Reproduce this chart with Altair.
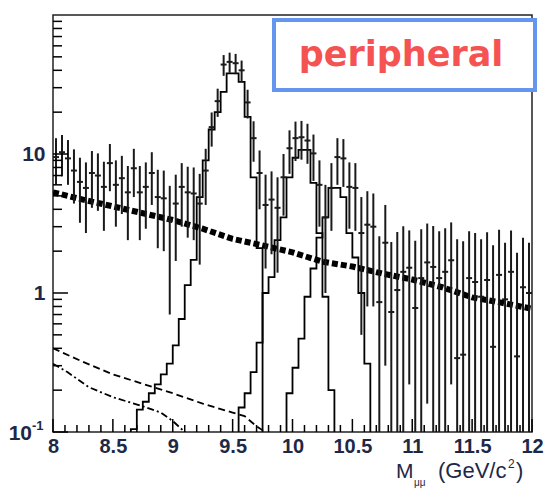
import altair as alt
import pandas as pd

# ---------------- data ----------------
BIN_W = 0.05
DATA_START = 8.0
DATA_VAL = [9.5, 10.3, 9.3, 7.6, 6.3, 5.7, 7.3, 7.0, 5.8, 8.6,
            6.0, 6.7, 5.3, 7.9, 5.3, 5.8, 7.3, 4.9, 4.8, 3.3,
            4.4, 5.8, 5.3, 5.2, 4.4, 7.6, 15.6, 24.0, 44.0, 46.0,
            45.0, 40.0, 23.5, 13.0, 7.3, 4.3, 4.7, 4.1, 6.8, 11.0,
            13.0, 13.2, 12.5, 10.1, 6.0, 3.5, 5.7, 9.5, 9.3, 5.8,
            5.7, 2.7, 3.1, 3.0, 0.86, 2.3, 0.73, 1.05, 1.42, 1.52,
            0.78, 1.28, 1.66, 1.54, 1.28, 1.42, 1.72, 0.34, 0.36, 1.28,
            1.2, 0.94, 1.24, 0.41, 1.35, 0.9, 1.42, 0.35, 1.1, 1.0]
DATA_ERR = [3.5, 3.4, 3.3, 3.2, 3.1, 3.0, 3.2, 3.1, 3.0, 3.2,
            3.0, 3.0, 2.9, 3.0, 2.9, 2.9, 3.0, 2.8, 2.8, 2.6,
            2.7, 2.8, 2.8, 2.8, 2.8, 3.3, 4.3, 5.5, 7.5, 7.6,
            7.5, 7.0, 5.5, 4.2, 3.3, 2.8, 2.8, 2.7, 3.2, 3.8,
            4.1, 4.1, 4.0, 3.7, 3.0, 2.5, 2.9, 3.5, 3.5, 2.9,
            2.9, 2.2, 2.3, 2.2, 1.7, 2.0, 1.6, 1.7, 1.6, 1.3,
            1.6, 1.6, 1.5, 1.5, 1.5, 1.5, 1.5, 2.1, 2.0, 1.5,
            1.5, 1.5, 1.5, 1.8, 1.5, 1.4, 1.4, 1.6, 1.4, 1.3]

BKG_X = [8.0, 8.25, 8.5, 8.75, 9.0, 9.25, 9.5, 9.75, 10.0, 10.25, 10.5,
         10.75, 11.0, 11.25, 11.5, 11.75, 12.0]
BKG_Y = [5.3, 4.7, 4.2, 3.75, 3.35, 2.9, 2.45, 2.2, 1.96, 1.68, 1.55,
         1.38, 1.25, 1.1, 0.93, 0.85, 0.77]

DY_X = [8.0, 8.25, 8.5, 8.75, 9.0, 9.25, 9.5, 9.6, 9.7, 9.85]
DY_Y = [0.40, 0.32, 0.26, 0.222, 0.19, 0.16, 0.138, 0.13, 0.11, 0.09]

BB_X = [8.0, 8.12, 8.3, 8.5, 8.75, 8.9, 9.0, 9.1, 9.2]
BB_Y = [0.31, 0.27, 0.21, 0.178, 0.153, 0.138, 0.12, 0.1, 0.085]

U1S_START = 8.65
U1S = [0.105, 0.145, 0.165, 0.19, 0.22, 0.26, 0.31, 0.42, 0.65, 1.14,
       1.73, 4.9, 9.0, 15.0, 20.0, 28.0, 38.0, 38.0, 33.0, 18.5, 6.8, 2.1]
U2S_START = 9.55
U2S = [0.15, 0.19, 0.27, 0.44, 1.0, 1.3, 2.4, 3.5, 6.8, 9.4, 10.7, 10.7,
       6.2, 2.7, 0.94, 0.2]
U3S_START = 9.95
U3S = [0.19, 0.29, 0.47, 0.94, 1.5, 2.5, 3.5, 5.7, 5.7, 4.9, 2.7, 1.8,
       1.0, 0.31]

X_MAJOR = [8, 8.5, 9, 9.5, 10, 10.5, 11, 11.5, 12]
X_MINOR = [8.1, 8.2, 8.3, 8.4, 8.6, 8.7, 8.8, 8.9, 9.1, 9.2, 9.3, 9.4,
           9.6, 9.7, 9.8, 9.9, 10.1, 10.2, 10.3, 10.4, 10.6, 10.7, 10.8, 10.9,
           11.1, 11.2, 11.3, 11.4, 11.6, 11.7, 11.8, 11.9]
Y_MAJOR = [0.1, 1, 10]
Y_LABELS = [1, 10]
Y_MINOR = [0.2, 0.3, 0.4, 0.5, 0.6, 0.7, 0.8, 0.9,
           2, 3, 4, 5, 6, 7, 8, 9, 20, 30, 40, 50, 60, 70, 80, 90]

TITLE = "peripheral"

# ---------------- tables ----------------
rows = []
for i, (v, e) in enumerate(zip(DATA_VAL, DATA_ERR)):
    lo = DATA_START + BIN_W * i
    rows.append({"lo": round(lo, 3), "hi": round(lo + BIN_W, 3),
                 "xc": round(lo + BIN_W / 2, 3), "v": v,
                 "yhi": v + e, "ylo": max(v - e, 0.01)})
df_data = pd.DataFrame(rows)


def hist_rows(start, vals, name):
    out = []
    edges = [round(start + BIN_W * k, 3) for k in range(len(vals) + 1)]
    out.append({"x": edges[0], "y": 0.01, "k": 0, "comp": name})
    for k, v in enumerate(vals):
        out.append({"x": edges[k], "y": v, "k": k + 1, "comp": name})
    out.append({"x": edges[-1], "y": 0.01, "k": len(vals) + 1, "comp": name})
    return out


df_hist = pd.DataFrame(hist_rows(U1S_START, U1S, "1S")
                       + hist_rows(U2S_START, U2S, "2S")
                       + hist_rows(U3S_START, U3S, "3S"))
df_bkg = pd.DataFrame({"x": BKG_X, "y": BKG_Y})
df_dy = pd.DataFrame({"x": DY_X, "y": DY_Y})
df_bb = pd.DataFrame({"x": BB_X, "y": BB_Y})

W, H = 479, 417
LC = "#1e2846"

xs = alt.Scale(domain=[8, 12], nice=False, zero=False)
ys = alt.Scale(type="log", domain=[0.1, 100], nice=False)
xax = alt.Axis(values=X_MAJOR, format="~g", grid=False, ticks=False, tickSize=0,
               domain=False, title=None, labelFont="Liberation Sans",
               labelFontWeight="bold", labelFontSize=20, labelColor=LC,
               labelPadding=4, labelFlush=False, labelOverlap=False)
yax = alt.Axis(values=Y_LABELS, format="~g", grid=False, ticks=False, tickSize=0,
               domain=False, title=None, labelFont="Liberation Sans",
               labelFontWeight="bold", labelFontSize=21, labelColor=LC,
               labelPadding=8, labelFlush=False, labelOverlap=False)


def X(f):
    return alt.X(f, type="quantitative", scale=xs, axis=xax)


def Y(f):
    return alt.Y(f, type="quantitative", scale=ys, axis=yax)


hist = alt.Chart(df_hist).mark_line(
    interpolate="step-after", color="black", strokeWidth=1.8, clip=True
).encode(x=X("x"), y=Y("y"), detail="comp:N", order="k:Q")

dy = alt.Chart(df_dy).mark_line(color="black", strokeWidth=1.8,
                                strokeDash=[7, 4], clip=True).encode(
    x=X("x"), y=Y("y"))
bb = alt.Chart(df_bb).mark_line(color="black", strokeWidth=1.8,
                                strokeDash=[7, 3, 2, 3], clip=True).encode(
    x=X("x"), y=Y("y"))
bkg = alt.Chart(df_bkg).mark_line(color="black", strokeWidth=6,
                                  strokeDash=[6, 3], clip=True).encode(
    x=X("x"), y=Y("y"))

err = alt.Chart(df_data).mark_rule(color="#1a1a1a", strokeWidth=2, clip=True).encode(
    x=X("xc"), y=Y("yhi"), y2="ylo")
cross = alt.Chart(df_data).mark_rule(color="#1a1a1a", strokeWidth=2, clip=True).encode(
    x=X("lo"), x2="hi", y=Y("v"))

# inward ROOT-style ticks
xt_major = alt.Chart(pd.DataFrame({"t": X_MAJOR})).mark_rule(
    color="black", strokeWidth=1.5).encode(
    x=X("t"), y=alt.value(H), y2=alt.value(H - 13))
xt_minor = alt.Chart(pd.DataFrame({"t": X_MINOR})).mark_rule(
    color="black", strokeWidth=1.5).encode(
    x=X("t"), y=alt.value(H), y2=alt.value(H - 7))
yt_major = alt.Chart(pd.DataFrame({"t": Y_MAJOR})).mark_rule(
    color="black", strokeWidth=1.5).encode(
    y=Y("t"), x=alt.value(0), x2=alt.value(15))
yt_minor = alt.Chart(pd.DataFrame({"t": Y_MINOR})).mark_rule(
    color="black", strokeWidth=1.5).encode(
    y=Y("t"), x=alt.value(0), x2=alt.value(9))

# 10^-1 label
tenth = pd.DataFrame({"t": [0.1]})
lab10 = alt.Chart(tenth).mark_text(
    text="10", align="right", baseline="middle", font="Liberation Sans",
    fontWeight="bold", fontSize=21, color=LC, dy=2).encode(
    y=Y("t"), x=alt.value(-21))
labm1 = alt.Chart(tenth).mark_text(
    text="-1", align="left", baseline="middle", font="Liberation Sans",
    fontWeight="bold", fontSize=13, color=LC, dy=-6).encode(
    y=Y("t"), x=alt.value(-21))

one = pd.DataFrame({"a": [0]})
TB = 463  # baseline of the x title (plot coordinates)
xt1 = alt.Chart(one).mark_text(text="M", align="left", baseline="alphabetic",
                               font="Liberation Sans", fontSize=21, color=LC).encode(
    x=alt.value(343), y=alt.value(TB))
xt2 = alt.Chart(one).mark_text(text="μμ", align="left", baseline="alphabetic",
                               font="Liberation Sans", fontSize=10, color=LC).encode(
    x=alt.value(361), y=alt.value(TB + 8))
xt3 = alt.Chart(one).mark_text(text="(GeV/c", align="left", baseline="alphabetic",
                               font="Liberation Sans", fontSize=22, color=LC).encode(
    x=alt.value(385), y=alt.value(TB))
xt4 = alt.Chart(one).mark_text(text="2", align="left", baseline="alphabetic",
                               font="Liberation Sans", fontSize=12, color=LC).encode(
    x=alt.value(455), y=alt.value(TB - 10))
xt5 = alt.Chart(one).mark_text(text=")", align="left", baseline="alphabetic",
                               font="Liberation Sans", fontSize=22, color=LC).encode(
    x=alt.value(463), y=alt.value(TB))

box = alt.Chart(one).mark_rect(fill="white", stroke="#6496f0", strokeWidth=4).encode(
    x=alt.value(221), x2=alt.value(482), y=alt.value(5), y2=alt.value(75))
title = alt.Chart(one).mark_text(text=TITLE, align="center", baseline="alphabetic",
                                 font="DejaVu Sans", fontWeight="bold",
                                 fontSize=35, color="#f55252").encode(
    x=alt.value(348), y=alt.value(51))

chart = alt.layer(
    hist, dy, bb, bkg, err, cross,
    xt_major, xt_minor, yt_major, yt_minor,
    lab10, labm1, xt1, xt2, xt3, xt4, xt5, box, title
).properties(
    width=W, height=H,
    autosize=alt.AutoSizeParams(type="none"),
    padding={"left": 53, "top": 15, "right": 17, "bottom": 58},
    background="white",
).configure_view(stroke="#222222", strokeWidth=1.5)

chart.save("out.html", embed_options={"renderer": "svg", "actions": False})
